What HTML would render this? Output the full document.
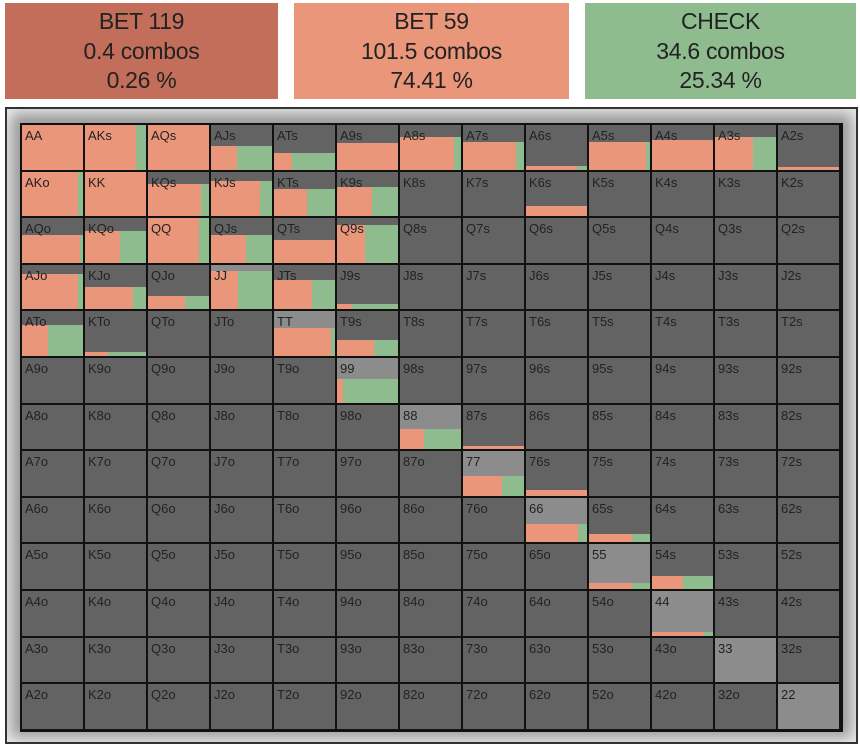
<!DOCTYPE html>
<html><head><meta charset="utf-8">
<style>
body{margin:0;width:860px;height:744px;background:#fff;position:relative;overflow:hidden;font-family:"Liberation Sans",Arial,sans-serif;}
.box{position:absolute;top:3px;height:96px;text-align:center;color:#222;font-size:23px;line-height:29.5px;padding-top:4px;box-sizing:border-box;letter-spacing:-0.3px}
#frame{position:absolute;left:5px;top:107px;width:853px;height:637px;box-sizing:border-box;border:2px solid #333;background:#9a9a9a;box-shadow:inset 0 0 14px 4px #eee}
#grid{position:absolute;left:20px;top:123px;width:823px;height:609px;background:#111;}
.cell{position:absolute;overflow:hidden;background:#636363}
.lbl{position:absolute;left:3px;top:3px;font-size:13px;color:#222;z-index:2}
.bar{position:absolute;bottom:0}
</style></head><body>
<div class="box" style="left:5px;width:273px;background:#c26e5a">BET 119<br>0.4 combos<br>0.26 %</div>
<div class="box" style="left:294px;width:275px;background:#e9967a">BET 59<br>101.5 combos<br>74.41 %</div>
<div class="box" style="left:585px;width:271px;background:#8fbc8f">CHECK<br>34.6 combos<br>25.34 %</div>
<div id="frame"></div>
<div id="grid"></div>
<script>
const ranks=["A","K","Q","J","T","9","8","7","6","5","4","3","2"];
// weight (fraction of hand in range) per cell, row-major
const weights=[
[1,1,1,0.54,0.38,0.6,0.74,0.62,0.08,0.62,0.67,0.74,0.05],
[1,1,0.73,0.78,0.62,0.66,0,0,0.23,0,0,0,0],
[0.62,0.72,1,0.62,0.51,0.85,0,0,0,0,0,0,0],
[0.8,0.51,0.29,0.85,0.67,0.13,0,0,0,0,0,0,0],
[0.7,0.09,0,0,0.63,0.36,0,0,0,0,0,0,0],
[0,0,0,0,0,0.52,0,0,0,0,0,0,0],
[0,0,0,0,0,0,0.46,0.08,0,0,0,0,0],
[0,0,0,0,0,0,0,0.44,0.14,0,0,0,0],
[0,0,0,0,0,0,0,0,0.42,0.18,0,0,0],
[0,0,0,0,0,0,0,0,0,0.13,0.3,0,0],
[0,0,0,0,0,0,0,0,0,0,0.07,0,0],
[0,0,0,0,0,0,0,0,0,0,0,0,0],
[0,0,0,0,0,0,0,0,0,0,0,0,0]];
// fraction of in-range combos that BET 59 (rest CHECK)
const betFrac=[
[1,0.83,1,0.43,0.3,1,0.88,0.87,0.83,0.94,1,0.62,1],
[0.92,1,0.87,0.8,0.54,0.57,1,1,1,1,1,1,1],
[0.95,0.57,0.84,0.57,1,0.46,1,1,1,1,1,1,1],
[0.92,0.78,0.6,0.45,0.62,0.25,1,1,1,1,1,1,1],
[0.43,0.37,1,1,0.94,0.6,1,1,1,1,1,1,1],
[1,1,1,1,1,0.1,1,1,1,1,1,1,1],
[1,1,1,1,1,1,0.4,1,1,1,1,1,1],
[1,1,1,1,1,1,1,0.64,1,1,1,1,1],
[1,1,1,1,1,1,1,1,0.85,0.7,1,1,1],
[1,1,1,1,1,1,1,1,1,0.71,0.5,1,1],
[1,1,1,1,1,1,1,1,1,1,0.86,1,1],
[1,1,1,1,1,1,1,1,1,1,1,1,1],
[1,1,1,1,1,1,1,1,1,1,1,1,1]];
const grid=document.getElementById('grid');
const CW=63,CH=46.6,GAP=2;
for(let r=0;r<13;r++){for(let c=0;c<13;c++){
  const name=r===c?ranks[r]+ranks[c]:(c>r?ranks[r]+ranks[c]+"s":ranks[c]+ranks[r]+"o");
  const cell=document.createElement('div');
  cell.className='cell';
  
  
  const x=2+c*CW, y=2+r*CH;
  cell.style.left=x+'px';cell.style.top=y+'px';
  cell.style.width=(CW-GAP)+'px';cell.style.height=(CH-GAP)+'px';
  if(r===c)cell.style.background='#8c8c8c';
  const lbl=document.createElement('span');lbl.className='lbl';lbl.textContent=name;
  
  
  cell.appendChild(lbl);
  const w=weights[r][c];
  if(w>0){
    const h=w*(CH-GAP), bw=(CW-GAP)*betFrac[r][c];
    const b=document.createElement('div');b.className='bar';
    
    
    b.style.left='0px';b.style.width=bw+'px';b.style.height=h+'px';b.style.background='#e9967a';
    cell.appendChild(b);
    const g=document.createElement('div');g.className='bar';
    
    
    g.style.left=bw+'px';g.style.width=(CW-GAP-bw)+'px';g.style.height=h+'px';g.style.background='#8fbc8f';
    cell.appendChild(g);
  }
  grid.appendChild(cell);
}}
</script>
</body></html>
